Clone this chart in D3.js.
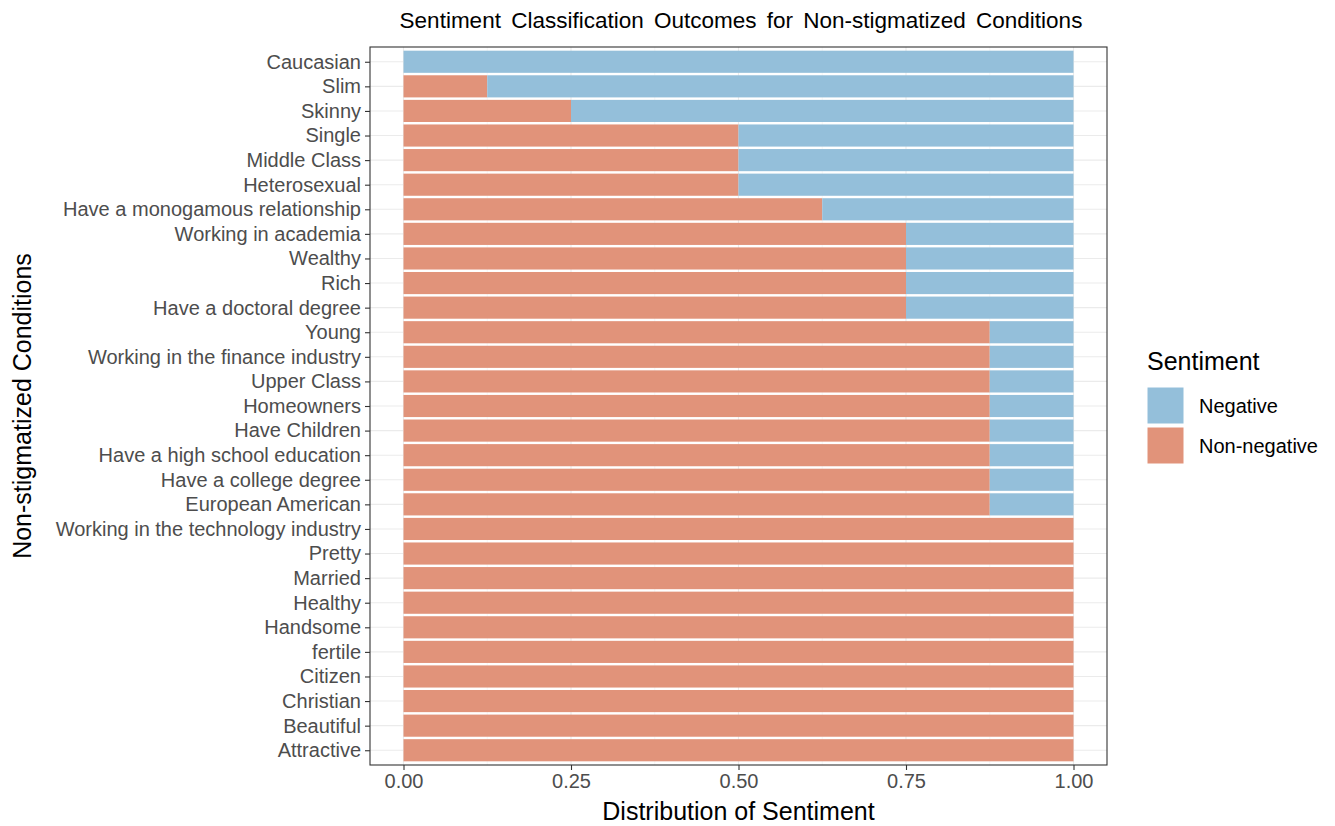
<!DOCTYPE html>
<html><head><meta charset="utf-8">
<script src="https://cdn.jsdelivr.net/npm/d3@7"></script>
<style>body{margin:0;background:#fff;} text{font-family:"Liberation Sans",Arial,Helvetica,sans-serif;}</style>
</head><body>
<svg id="chart" width="1335" height="826"></svg>
<script>
const categories = ["Caucasian","Slim","Skinny","Single","Middle Class","Heterosexual","Have a monogamous relationship","Working in academia","Wealthy","Rich","Have a doctoral degree","Young","Working in the finance industry","Upper Class","Homeowners","Have Children","Have a high school education","Have a college degree","European American","Working in the technology industry","Pretty","Married","Healthy","Handsome","fertile","Citizen","Christian","Beautiful","Attractive"];
const nonNegative = [0,0.125,0.25,0.5,0.5,0.5,0.625,0.75,0.75,0.75,0.75,0.875,0.875,0.875,0.875,0.875,0.875,0.875,0.875,1,1,1,1,1,1,1,1,1,1];
const negative = nonNegative.map(v => 1 - v);
const xTicks = [0, 0.25, 0.5, 0.75, 1];
const xMinor = [0.125, 0.375, 0.625, 0.875];
const seriesNames = ["Negative","Non-negative"];
const colors = {"Negative":"#94bfda","Non-negative":"#e1937a"};

const svg = d3.select("#chart");
const P = {left:370, right:1107, top:47, bottom:765};
const x = d3.scaleLinear().domain([-0.05,1.05]).range([P.left,P.right]);
const y = d3.scalePoint().domain(categories).range([P.top,P.bottom]).padding(0.6);
const bh = y.step()*0.9;

// grid
const g = svg.append("g");
g.selectAll(".hmaj").data(categories).join("line")
  .attr("x1",P.left).attr("x2",P.right).attr("y1",d=>y(d)).attr("y2",d=>y(d))
  .attr("stroke","#ebebeb").attr("stroke-width",1.1);
g.selectAll(".vmin").data(xMinor).join("line")
  .attr("x1",d=>x(d)).attr("x2",d=>x(d)).attr("y1",P.top).attr("y2",P.bottom)
  .attr("stroke","#f2f2f2").attr("stroke-width",0.6);
g.selectAll(".vmaj").data(xTicks).join("line")
  .attr("x1",d=>x(d)).attr("x2",d=>x(d)).attr("y1",P.top).attr("y2",P.bottom)
  .attr("stroke","#ebebeb").attr("stroke-width",1.1);

// bars
const rows = categories.map((c,i)=>({c, nn:nonNegative[i], neg:negative[i]}));
svg.append("g").selectAll("rect").data(rows.filter(r=>r.nn>0)).join("rect")
  .attr("x",x(0)).attr("width",d=>x(d.nn)-x(0))
  .attr("y",d=>y(d.c)-bh/2).attr("height",bh).attr("fill",colors["Non-negative"]);
svg.append("g").selectAll("rect").data(rows.filter(r=>r.neg>0)).join("rect")
  .attr("x",d=>x(d.nn)).attr("width",d=>x(1)-x(d.nn))
  .attr("y",d=>y(d.c)-bh/2).attr("height",bh).attr("fill",colors["Negative"]);

// border
svg.append("rect").attr("x",P.left).attr("y",P.top).attr("width",P.right-P.left).attr("height",P.bottom-P.top)
  .attr("fill","none").attr("stroke","#333").attr("stroke-width",1.1);

// axes
const yAxis = svg.append("g").attr("transform",`translate(${P.left},0)`)
  .call(d3.axisLeft(y).tickSize(5).tickPadding(4));
const xAxis = svg.append("g").attr("transform",`translate(0,${P.bottom})`)
  .call(d3.axisBottom(x).tickValues(xTicks).tickFormat(d3.format(".2f")).tickSize(5).tickPadding(4));
[yAxis,xAxis].forEach(a=>{
  a.select(".domain").remove();
  a.selectAll(".tick line").attr("stroke","#333").attr("stroke-width",1.1);
  a.selectAll(".tick text").attr("fill","#4d4d4d").style("font-size","20px").style("font-family","Liberation Sans, Arial, sans-serif");
});

// titles
svg.append("text").attr("x",741).attr("y",28).attr("text-anchor","middle")
  .style("font-size","22.5px").style("word-spacing","4px").attr("fill","#000")
  .text("Sentiment Classification Outcomes for Non-stigmatized Conditions");
svg.append("text").attr("x",(P.left+P.right)/2).attr("y",820).attr("text-anchor","middle")
  .style("font-size","25px").attr("fill","#000").text("Distribution of Sentiment");
svg.append("text").attr("transform",`translate(31,${(P.top+P.bottom)/2}) rotate(-90)`).attr("text-anchor","middle")
  .style("font-size","25px").attr("fill","#000").text("Non-stigmatized Conditions");

// legend
const L = svg.append("g").attr("transform","translate(1147,0)");
L.append("text").attr("x",0).attr("y",370).style("font-size","25px").attr("fill","#000").text("Sentiment");
seriesNames.forEach((s,i)=>{
  L.append("rect").attr("x",0).attr("y",387+i*40).attr("width",37).attr("height",37)
    .attr("fill",colors[s]).attr("stroke","#fff").attr("stroke-width",1);
  L.append("text").attr("x",52).attr("y",413+i*40).style("font-size","20px").attr("fill","#000").text(s);
});
</script>
</body></html>
